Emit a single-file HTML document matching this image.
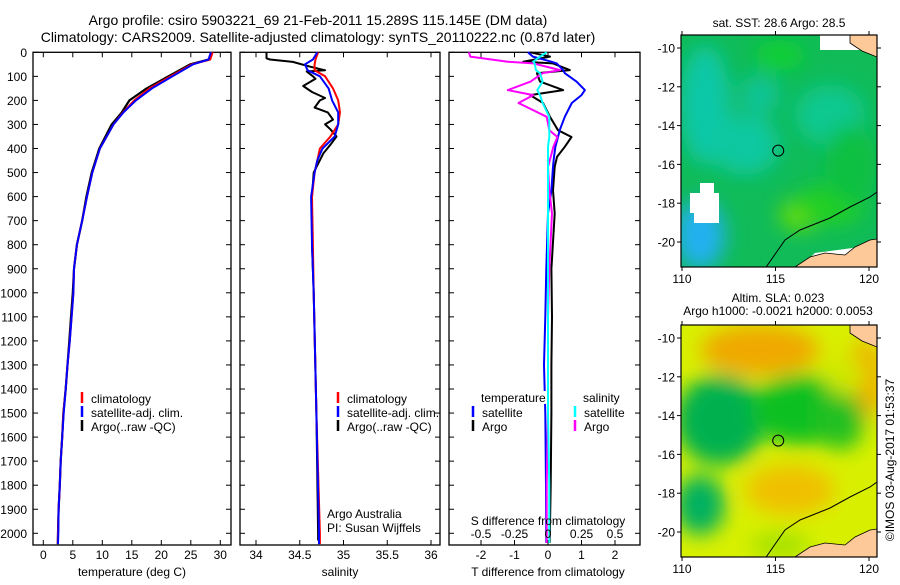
<!DOCTYPE html>
<html><head><meta charset="utf-8">
<style>
html,body{margin:0;padding:0;background:#fff;}
body{width:900px;height:580px;overflow:hidden;font-family:"Liberation Sans",sans-serif;}
svg text{font-family:"Liberation Sans",sans-serif;fill:#000;}
</style></head>
<body>
<svg id="chart" width="900" height="580" viewBox="0 0 900 580" xmlns="http://www.w3.org/2000/svg">
<defs>
<filter id="blur10" x="-50%" y="-50%" width="200%" height="200%"><feGaussianBlur stdDeviation="10"/></filter>
<clipPath id="clipTop"><rect x="681" y="35" width="196" height="232"/></clipPath>
<clipPath id="clipBot"><rect x="681" y="325" width="196" height="232"/></clipPath>
</defs>
<text x="318" y="25" font-size="14" text-anchor="middle">Argo profile: csiro 5903221_69 21-Feb-2011 15.289S 115.145E (DM data)</text>
<text x="318" y="42" font-size="14" text-anchor="middle">Climatology: CARS2009. Satellite-adjusted climatology: synTS_20110222.nc (0.87d later)</text>
</svg>
<script>
// ---- data ----
const tempDepth=[0,30,50,100,150,200,250,300,400,500,600,700,800,900,1000,1100,1200,1300,1400,1500,1600,1700,1800,1900,2000,2045];
const tempClim=[28.7,28.3,25.2,21.6,18.0,15.4,13.5,11.9,9.6,8.3,7.4,6.6,5.7,5.2,5.1,4.8,4.5,4.1,3.8,3.4,3.2,2.95,2.8,2.6,2.5,2.45];
const tempSat=[28.4,28.0,25.4,21.9,18.4,15.7,13.6,11.9,9.6,8.3,7.4,6.6,5.7,5.2,5.1,4.8,4.5,4.1,3.8,3.45,3.2,2.95,2.8,2.6,2.55,2.5];
const tempArgo=[28.5,28.1,24.9,21.2,17.5,14.6,13.3,11.6,9.5,8.2,7.3,6.6,5.7,5.2,5.0,4.7,4.4,4.1,3.8,3.4,3.2,2.95,2.8,2.6,2.5,2.45];
const salDepth=[0,30,50,75,100,150,200,250,300,350,400,450,500,600,800,1000,1500,2000,2045];
const salClim=[34.71,34.68,34.67,34.67,34.79,34.88,34.94,34.96,34.94,34.85,34.73,34.70,34.67,34.64,34.65,34.66,34.69,34.73,34.73];
const salSat=[34.70,34.65,34.56,34.59,34.73,34.83,34.87,34.94,34.94,34.90,34.76,34.70,34.67,34.63,34.64,34.66,34.69,34.72,34.72];
const argoSalDepth=[0,25,30,40,60,75,80,100,110,140,165,190,200,230,250,280,300,320,350,380,420,470,500,600,800,1000,1500,2000,2030];
const argoSal=[34.12,34.12,34.16,34.42,34.62,34.79,34.58,34.65,34.68,34.54,34.64,34.79,34.73,34.67,34.82,34.88,34.79,34.85,34.92,34.86,34.77,34.70,34.66,34.64,34.64,34.66,34.69,34.71,34.71];
const diffDepth=[0,18,39,46,74,87,122,157,178,211,268,324,352,393,435,476,574,670,900,1100,1300,1500,1800,2040];
const tDiffArgo=[-0.53,0.06,-0.74,0.15,0.65,-0.33,-0.24,0.45,-0.53,-0.15,0.06,0.3,0.7,0.5,0.27,0.2,0.15,0.2,0.1,0.12,0.1,0.1,0.08,0.05];
const tDiffSat=[-0.6,-0.45,0.1,0.26,0.45,0.5,0.85,1.1,1.0,0.71,0.5,0.35,0.3,0.22,0.18,0.15,0.1,0.0,-0.05,-0.08,-0.12,-0.08,-0.06,-0.05];
const sDiffArgo=[-0.59,-0.58,-0.3,-0.11,0.09,-0.04,-0.13,-0.3,-0.11,-0.22,-0.01,0.01,0.07,0.04,0.02,0.0,0.01,0.03,0.01,0.0,0.0,0.0,-0.01,-0.01];
const sDiffSat=[-0.01,-0.06,-0.11,-0.1,-0.09,-0.06,-0.04,-0.08,-0.06,-0.04,0.01,0.01,0.01,0.0,0.0,0.0,0.0,0.0,0.0,0.0,0.0,0.0,0.01,0.01];
const depthTicks=[0,100,200,300,400,500,600,700,800,900,1000,1100,1200,1300,1400,1500,1600,1700,1800,1900,2000];
const tempTicks=[0,5,10,15,20,25,30];
const salTicks=[34,34.5,35,35.5,36];
const tDiffTicks=[-2,-1,0,1,2];
const sDiffTicks=[-0.5,-0.25,0,0.25,0.5];
const lonTicks=[110,115,120];
const latTicks=[-10,-12,-14,-16,-18,-20];
const argoLon=[115.145];
const argoLat=[-15.289];

// ---- helpers ----
const svg=document.getElementById('chart');
const NS='http://www.w3.org/2000/svg';
function el(tag,attrs,parent){const e=document.createElementNS(NS,tag);for(const k in attrs)e.setAttribute(k,attrs[k]);(parent||svg).appendChild(e);return e;}
function txt(s,x,y,size,anchor,parent){const t=el('text',{x:x,y:y,'font-size':size,'text-anchor':anchor||'middle'},parent);t.textContent=s;return t;}
const TOP=52.3,BOT=545;
const yD=d=>TOP+d*0.2405;
const xT=v=>43.3+v*5.9;
const xS=v=>256+(v-34)*87.5;
const xTD=v=>548+v*33.5;
const xSD=v=>548+v*134;

function panel(name,x0,x1){
  const g=el('g',{});
  
  
  el('rect',{x:x0,y:TOP,width:x1-x0,height:BOT-TOP,fill:'none',stroke:'#000','stroke-width':1.3},g);
  depthTicks.forEach(d=>{
    el('line',{x1:x0,x2:x0+5,y1:yD(d),y2:yD(d),stroke:'#000'},g);
    el('line',{x1:x1-5,x2:x1,y1:yD(d),y2:yD(d),stroke:'#000'},g);
  });
  return g;
}
function xticks(g,ticks,fx,labelY){
  ticks.forEach(v=>{
    const x=fx(v);
    el('line',{x1:x,x2:x,y1:TOP,y2:TOP+5,stroke:'#000'},g);
    el('line',{x1:x,x2:x,y1:BOT-5,y2:BOT,stroke:'#000'},g);
    const t=txt(String(v),x,labelY,12,'middle',g);
    
    
  });
}
function line(name,depths,vals,fx,color,w,parent){
  const pts=depths.map((d,i)=>fx(vals[i]).toFixed(1)+','+yD(d).toFixed(1)).join(' ');
  const p=el('polyline',{points:pts,fill:'none',stroke:color,'stroke-width':w||2,'stroke-linejoin':'round'},parent);
  
  
  return p;
}
function legendRow(g,x,y,color,label){
  el('line',{x1:x,x2:x,y1:y-11,y2:y,stroke:color,'stroke-width':2.5},g);
  const t=txt(label,x+9,y,12,'start',g);
  
  
}

const yax=el('g',{});


depthTicks.forEach(d=>txt(String(d),27,yD(d)+4.5,12,'end',yax));

// panel 1 temperature
const p1=panel('temperature-panel',33,231);
xticks(p1,tempTicks,xT,559);
txt('temperature (deg C)',132,576,12,'middle',p1);
line('temp-argo',tempDepth,tempArgo,xT,'#000',2.2,p1);
line('temp-climatology',tempDepth,tempClim,xT,'#f00',2,p1);
line('temp-satellite',tempDepth,tempSat,xT,'#00f',2,p1);
const l1=el('g',{},p1);


legendRow(l1,82,403,'#f00','climatology');
legendRow(l1,82,417,'#00f','satellite-adj. clim.');
legendRow(l1,82,431,'#000','Argo(..raw -QC)');

// panel 2 salinity
const p2=panel('salinity-panel',240,440);
xticks(p2,salTicks,xS,559);
txt('salinity',340,576,12,'middle',p2);
line('sal-argo',argoSalDepth,argoSal,xS,'#000',2,p2);
line('sal-climatology',salDepth,salClim,xS,'#f00',2,p2);
line('sal-satellite',salDepth,salSat,xS,'#00f',2,p2);
const l2=el('g',{},p2);


legendRow(l2,338,403,'#f00','climatology');
legendRow(l2,338,417,'#00f','satellite-adj. clim.');
legendRow(l2,338,431,'#000','Argo(..raw -QC)');
txt('Argo Australia',327,518,12,'start',p2);
txt('PI: Susan Wijffels',327,532,12,'start',p2);

// panel 3 differences
const p3=panel('difference-panel',449,640);
xticks(p3,tDiffTicks,xTD,559);
line('t-diff-argo',diffDepth,tDiffArgo,xTD,'#000',2,p3);
line('t-diff-satellite',diffDepth,tDiffSat,xTD,'#00f',2,p3);
line('s-diff-argo',diffDepth,sDiffArgo,xSD,'#f0f',2,p3);
line('s-diff-satellite',diffDepth,sDiffSat,xSD,'#0ff',2,p3);
sDiffTicks.forEach(v=>{const t=txt(String(v),xSD(v),538,12,'middle',p3);
  
  });
txt('S difference from climatology',548,525,12,'middle',p3);
txt('T difference from climatology',548,576,12,'middle',p3);
const l3=el('g',{},p3);


el('rect',{x:480,y:391,width:66,height:13,fill:'#fff'},l3);
txt('temperature',481,402,12,'start',l3);
txt('salinity',583,402,12,'start',l3);
legendRow(l3,473,417,'#00f','satellite');
legendRow(l3,473,431,'#000','Argo');
legendRow(l3,575,417,'#0ff','satellite');
legendRow(l3,575,431,'#f0f','Argo');

// ---- maps ----
const mx=v=>682+(v-110)*18.7;
function map(name,y0,clip,blobs,base){
  const g=el('g',{});
  
  
  const my=v=>y0+13+(-10-v)*19.4;
  const inner=el('g',{'clip-path':'url(#'+clip+')'},g);
  el('rect',{x:681,y:y0,width:196,height:232,fill:base},inner);
  const bg=el('g',{filter:'url(#blur10)'},inner);
  blobs.forEach(b=>el('ellipse',{cx:b[0],cy:y0+b[1],rx:b[2],ry:b[3],fill:b[4]},bg));
  return {g,inner,my};
}
function finishMap(m,y0,white){
  const inner=m.inner,g=m.g,my=m.my;
  if(white){el('path',{d:`M690 ${y0+158} h10 v-10 h14 v10 h5 v30 h-25 v-10 h-4z`,fill:'#fff'},inner);
    el('path',{d:`M800 ${y0+232} L815 ${y0+218} L860 ${y0+212} L877 ${y0+210} V${y0+232}z`,fill:'#fff'},inner);
    el('path',{d:`M820 ${y0} h60 v15 h-60z`,fill:'#fff'},inner);}
  el('polyline',{points:`${mx(114.5)},${y0+232} 785,${y0+205} 800,${y0+195} 830,${y0+183} 850,${y0+172} 870,${y0+162} 877,${y0+157}`,fill:'none',stroke:'#000','stroke-width':1},inner);
  el('path',{d:`M795 ${y0+232} L810 ${y0+222} L825 ${y0+218} L845 ${y0+220} L855 ${y0+212} L870 ${y0+205} L877 ${y0+204} V${y0+232}z`,fill:'#fdc998',stroke:'#000','stroke-width':0.8},inner);
  el('path',{d:`M850 ${y0} L850 ${y0+8} L862 ${y0+16} L872 ${y0+20} L877 ${y0+22} V${y0}z`,fill:'#fdc998',stroke:'#000','stroke-width':0.8},inner);
  el('rect',{x:681,y:y0,width:196,height:232,fill:'none',stroke:'#000','stroke-width':1.2},g);
  lonTicks.forEach(v=>{el('line',{x1:mx(v),x2:mx(v),y1:y0,y2:y0-4,stroke:'#000'},g);
    el('line',{x1:mx(v),x2:mx(v),y1:y0+232,y2:y0+236,stroke:'#000'},g);
    const t=txt(String(v),mx(v),y0+248,12,'middle',g);
    
    });
  latTicks.forEach(v=>{el('line',{x1:677,x2:681,y1:my(v),y2:my(v),stroke:'#000'},g);
    el('line',{x1:877,x2:881,y1:my(v),y2:my(v),stroke:'#000'},g);
    const t=txt(String(v),675,my(v)+4.5,12,'end',g);
    
    });
  const c=el('circle',{cx:mx(argoLon[0]),cy:my(argoLat[0]),r:5.5,fill:'none',stroke:'#000','stroke-width':1},g);
  
  
}
const m1=map('sst-map',35,"clipTop",[
  [705,70,25,60,'#10c8a8'],[745,110,35,30,'#10c8a0'],[760,60,20,20,'#10c498'],[700,200,25,35,'#20b0f0'],[830,80,35,30,'#10c890'],
  [800,180,20,15,'#70e000'],[830,170,35,20,'#20d020'],[850,130,25,40,'#10c040'],[780,20,25,15,'#10d030']],'#10bb58');
finishMap(m1,35,true);
const t1=txt('sat. SST: 28.6 Argo: 28.5',779,27,12,'middle',m1.g);

const m2=map('sla-map',325,"clipBot",[
  [760,25,60,25,'#f0a800'],[865,55,20,40,'#f0b000'],[720,95,45,45,'#00b050'],[800,85,50,35,'#10c020'],[840,95,25,30,'#20c020'],
  [700,180,25,30,'#00b060'],[790,165,45,25,'#f0c000'],[780,220,30,12,'#a0e000'],[845,50,20,20,'#d0e800']],'#d8f000');
finishMap(m2,325,false);
txt('Altim. SLA: 0.023',778,302,12,'middle',m2.g);
txt('Argo h1000: -0.0021 h2000: 0.0053',778,315,12,'middle',m2.g);
const cr=txt('©IMOS 03-Aug-2017 01:53:37',0,0,12,'middle');
cr.setAttribute('transform','translate(894,460) rotate(-90)');


</script>
</body></html>
